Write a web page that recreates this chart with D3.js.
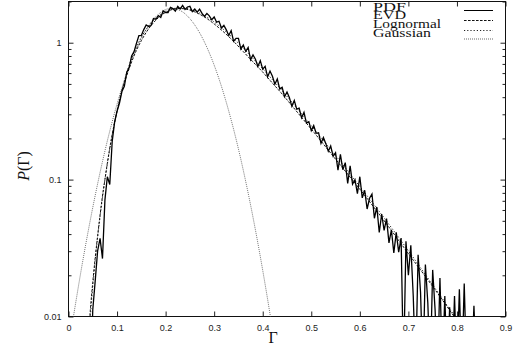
<!DOCTYPE html>
<html><head><meta charset="utf-8">
<script src="https://cdn.jsdelivr.net/npm/d3@7"></script>
<style>body{margin:0;background:#fff}svg{display:block}</style>
</head><body>
<svg id="c" width="514" height="349"></svg>
<script>
// ---- data ----
const xTickValues = [0,0.1,0.2,0.3,0.4,0.5,0.6,0.7,0.8,0.9];
const xTickLabels = ["0","0.1","0.2","0.3","0.4","0.5","0.6","0.7","0.8","0.9"];
const yTickValues = [0.01,0.1,1];
const yTickLabels = ["0.01","0.1","1"];
const yMinorTicks = [0.02,0.03,0.04,0.05,0.06,0.07,0.08,0.09,0.2,0.3,0.4,0.5,0.6,0.7,0.8,0.9,2];
const seriesNames = ["PDF","EVD","Lognormal","Gaussian"];

// PDF histogram (bins start at 0.045, width 0.005)
const pdfStart = 0.045, pdfStep = 0.005;
const pdfValues = [
 0.003,0.0112,0.0182,0.0302,0.0372,0.0265,0.0708,0.105,0.092,0.19,
 0.263,0.316,0.362,0.44,0.48,0.61,0.66,0.80,0.86,0.99,
 1.127,1.13,1.247,1.349,1.312,1.334,1.500,1.483,1.578,1.528,
 1.710,1.656,1.656,1.811,1.774,1.698,1.841,1.766,1.875,1.750,
 1.824,1.845,1.687,1.762,1.671,1.758,1.637,1.556,1.637,1.570,
 1.472,1.542,1.413,1.435,1.282,1.337,1.242,1.128,1.225,1.024,
 1.076,1.075,0.899,0.961,0.864,0.923,0.750,0.815,0.757,0.671,
 0.739,0.640,0.671,0.562,0.621,0.569,0.498,0.543,0.460,0.472,
 0.403,0.436,0.397,0.343,0.379,0.327,0.333,0.283,0.310,0.259,
 0.265,0.228,0.248,0.218,0.220,0.184,0.203,0.183,0.161,0.176,
 0.148,0.157,0.117,0.153,0.118,0.133,0.0938,0.126,0.0927,0.100,
 0.0791,0.105,0.0736,0.0836,0.0610,0.0731,0.0785,0.0522,0.0631,0.0411,
 0.0561,0.0425,0.0519,0.0345,0.0430,0.0291,0.0412,0.0295,0.0374,0.004,
 0.0355,0.0200,0.0331,0.0141,0.004,0.0282,0.0151,0.004,0.0240,0.0126,
 0.004,0.0219,0.0112,0.004,0.0191,0.004,0.0141,0.004,0.0117,0.004,
 0.0141,0.004,0.0158,0.004,0.0174,0.004,0.004,0.004,0.012,0.004
];

const evdX = [0.040,0.045,0.050,0.055,0.060,0.065,0.070,0.075,0.080,0.090,0.100,0.110,0.120,0.130,0.140,0.150,0.160,0.170,0.180,0.190,0.200,0.210,0.220,0.230,0.240,0.250,0.260,0.270,0.280,0.290,0.300,0.320,0.340,0.360,0.380,0.400,0.420,0.440,0.460,0.480,0.500,0.550,0.600,0.650,0.700,0.750,0.800];
const evdY = [0.00631,0.0112,0.0178,0.0269,0.0389,0.0550,0.0759,0.100,0.132,0.214,0.316,0.447,0.575,0.724,0.881,1.035,1.189,1.334,1.462,1.578,1.667,1.730,1.770,1.778,1.766,1.730,1.679,1.614,1.542,1.459,1.371,1.194,1.023,0.861,0.724,0.610,0.507,0.422,0.347,0.285,0.234,0.141,0.0851,0.0501,0.0288,0.0166,0.00933];

const lognX = [0.040,0.045,0.050,0.055,0.060,0.065,0.070,0.075,0.080,0.090,0.100,0.110,0.120,0.130,0.140,0.150,0.160,0.170,0.180,0.190,0.200,0.210,0.220,0.230,0.240,0.250,0.260,0.270,0.280,0.290,0.300,0.320,0.340,0.360,0.380,0.400,0.420,0.440,0.460,0.480,0.500,0.550,0.600,0.650,0.700,0.750,0.800];
const lognY = [0.00562,0.0100,0.0166,0.0257,0.0380,0.0537,0.0741,0.100,0.130,0.211,0.320,0.452,0.603,0.767,0.933,1.096,1.250,1.390,1.514,1.614,1.698,1.754,1.786,1.799,1.786,1.758,1.710,1.648,1.578,1.500,1.416,1.242,1.072,0.912,0.767,0.646,0.537,0.447,0.367,0.302,0.248,0.150,0.0891,0.0525,0.0302,0.0170,0.00955];

const gaussX = [0.010,0.030,0.050,0.070,0.090,0.110,0.130,0.150,0.170,0.190,0.210,0.230,0.250,0.270,0.290,0.310,0.330,0.350,0.370,0.390,0.410,0.420];
const gaussY = [0.0099,0.0262,0.0626,0.1355,0.265,0.468,0.747,1.080,1.410,1.665,1.778,1.717,1.498,1.182,0.843,0.544,0.317,0.1674,0.0797,0.0344,0.0134,0.00805];

// ---- drawing ----
const svg = d3.select("#c");
const L = 68.5, R = 505.5, T = 1.5, B = 316.5;
const x = d3.scaleLinear().domain([0,0.9]).range([L,R]);
const y = d3.scaleLog().domain([0.01,2]).range([B,T]);

svg.append("clipPath").attr("id","clip").append("rect")
  .attr("x",L).attr("y",T).attr("width",R-L).attr("height",B-T);

const font = "'Liberation Sans', Arial, sans-serif";
const serif = "'Liberation Serif', 'Times New Roman', serif";

const xb = svg.append("g").attr("transform",`translate(0,${B})`)
  .call(d3.axisBottom(x).tickValues(xTickValues).tickFormat((d,i)=>xTickLabels[i]).tickSizeInner(-5).tickSizeOuter(0).tickPadding(8));
const xt = svg.append("g").attr("transform",`translate(0,${T})`)
  .call(d3.axisTop(x).tickValues(xTickValues).tickFormat("").tickSizeInner(-5).tickSizeOuter(0));
const yl = svg.append("g").attr("transform",`translate(${L},0)`)
  .call(d3.axisLeft(y).tickValues(yTickValues).tickFormat((d,i)=>yTickLabels[i]).tickSizeInner(-5).tickSizeOuter(0).tickPadding(7));
const ylm = svg.append("g").attr("transform",`translate(${L},0)`)
  .call(d3.axisLeft(y).tickValues(yMinorTicks).tickFormat("").tickSizeInner(-3).tickSizeOuter(0));
const yr = svg.append("g").attr("transform",`translate(${R},0)`)
  .call(d3.axisRight(y).tickValues(yTickValues).tickFormat("").tickSizeInner(-5).tickSizeOuter(0));
const yrm = svg.append("g").attr("transform",`translate(${R},0)`)
  .call(d3.axisRight(y).tickValues(yMinorTicks).tickFormat("").tickSizeInner(-3).tickSizeOuter(0));
[xb,xt,yl,ylm,yr,yrm].forEach(g=>{
  g.select(".domain").remove();
  g.selectAll("line").attr("stroke","#222").attr("stroke-width",1);
  g.selectAll("text").attr("font-family",font).attr("font-size",9).attr("fill","#222");
});

svg.append("rect").attr("x",L).attr("y",T).attr("width",R-L).attr("height",B-T)
  .attr("fill","none").attr("stroke","#111").attr("stroke-width",1);

const plot = svg.append("g").attr("clip-path","url(#clip)");
const line = d3.line().x(d=>x(d[0])).y(d=>y(d[1]));
const lineCurve = d3.line().x(d=>x(d[0])).y(d=>y(d[1])).curve(d3.curveMonotoneX);

const pdfData = pdfValues.map((v,i)=>[pdfStart+i*pdfStep, v]);
const evdData = evdX.map((v,i)=>[v, evdY[i]]);
const lognData = lognX.map((v,i)=>[v, lognY[i]]);
const gaussData = gaussX.map((v,i)=>[v, gaussY[i]]);

plot.append("path").datum(gaussData).attr("d",lineCurve)
  .attr("fill","none").attr("stroke","#555").attr("stroke-width",0.9).attr("stroke-dasharray","0.9,1.1");
plot.append("path").datum(lognData).attr("d",lineCurve)
  .attr("fill","none").attr("stroke","#222").attr("stroke-width",1).attr("stroke-dasharray","1.2,2");
plot.append("path").datum(evdData).attr("d",lineCurve)
  .attr("fill","none").attr("stroke","#111").attr("stroke-width",1).attr("stroke-dasharray","2.6,1.4");
plot.append("path").datum(pdfData).attr("d",line)
  .attr("fill","none").attr("stroke","#000").attr("stroke-width",1.3).attr("stroke-linejoin","miter");

// legend
const legTextY = [10.5,19,28,37];
const legLineY = [10.5,20.5,30.5,39];
const legLen = [33,33,68,58];
const dash = [null,"2.6,1.4","1.2,2","0.9,1.1"];
const lcol = ["#000","#111","#222","#555"];
seriesNames.forEach((n,i)=>{
  svg.append("text").attr("x",373).attr("y",legTextY[i]).text(n)
    .attr("font-family",serif).attr("font-size",13).attr("fill","#111")
    .attr("textLength",legLen[i]).attr("lengthAdjust","spacingAndGlyphs");
  const ln = svg.append("line").attr("x1",464).attr("x2",493).attr("y1",legLineY[i]).attr("y2",legLineY[i])
    .attr("stroke",lcol[i]).attr("stroke-width",1);
  if(dash[i]) ln.attr("stroke-dasharray",dash[i]);
});

// axis titles
const yt = svg.append("text").attr("transform","translate(29,166) rotate(-90)")
  .attr("text-anchor","middle").attr("font-family",serif).attr("font-size",16).attr("fill","#111");
yt.append("tspan").attr("font-style","italic").text("P");
yt.append("tspan").text("(Γ)");
svg.append("text").attr("x",273).attr("y",343).attr("text-anchor","middle")
  .attr("font-family",serif).attr("font-size",16).attr("fill","#111").text("Γ");
</script>
</body></html>
